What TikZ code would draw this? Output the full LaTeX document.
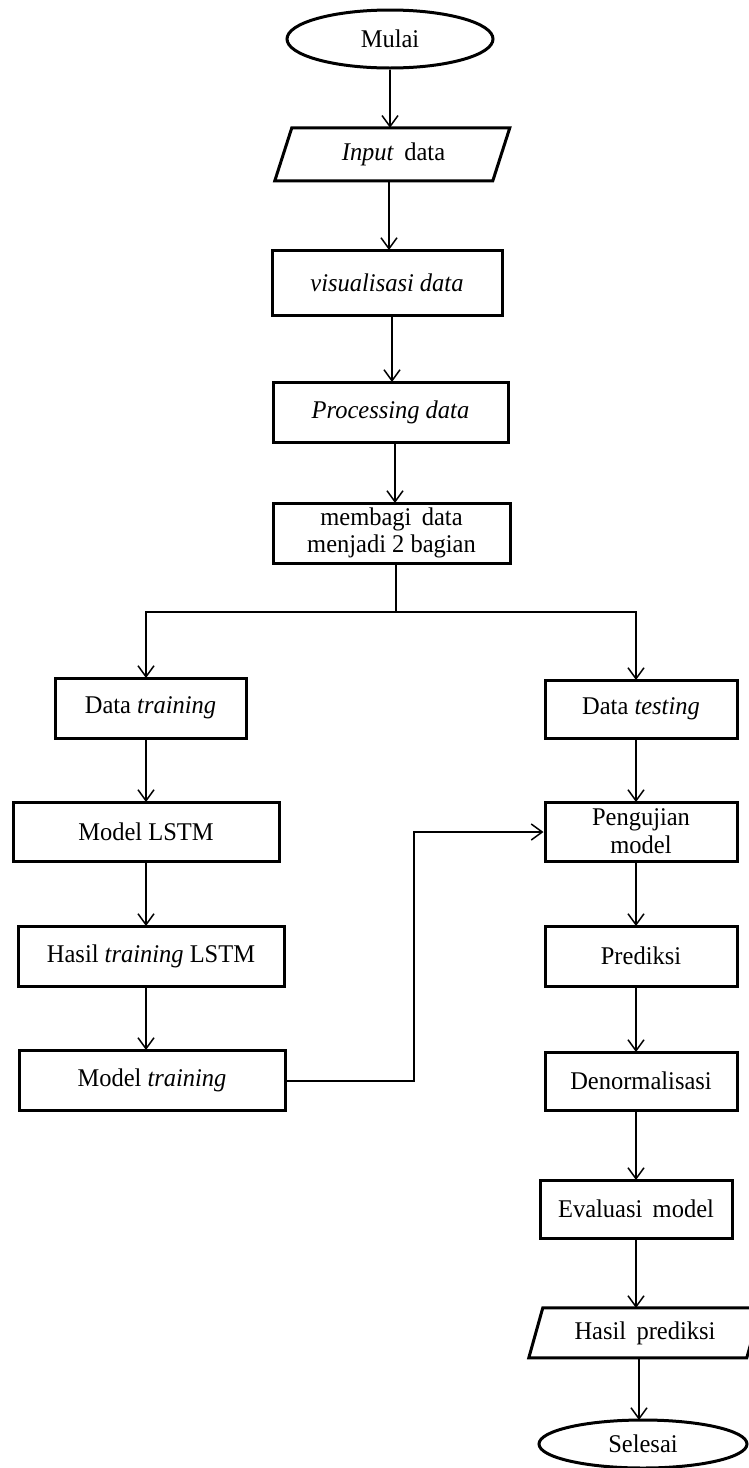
\documentclass[tikz,border=0pt]{standalone}
\usepackage{fontspec}
\setmainfont[FakeStretch=0.96]{Liberation Serif}
\usetikzlibrary{arrows.meta,shapes.geometric}
\begin{document}
\begin{tikzpicture}[x=1pt,y=-1pt,
  every node/.style={font=\fontsize{25.5}{28}\selectfont, align=center, inner sep=0pt},
  box/.style={draw, line width=3pt, rectangle, minimum width=#1},
  oval/.style={draw, line width=3pt, ellipse},
  ghost/.style={rectangle},
  conn/.style={line width=1.5pt, -{Straight Barb[length=11pt,width=16pt]}},
  plain/.style={line width=1.5pt}]
\useasboundingbox (0,0) rectangle (749,1468);
\clip (0,0) rectangle (749,1468);

% top chain
\node[oval, minimum width=206, minimum height=58] (mulai) at (390,39) {Mulai};
\node[ghost, minimum width=220, minimum height=53] (inp) at (393.5,154.5) {\textit{Input}\, data};
\draw[line width=3pt, line join=miter] (inp.north west) ++(8.5,0) -- ++(218,0) -- ++(-17,53) -- ++(-218,0) -- cycle;
\node[box=230, minimum height=65] (vis) at (387,282.5) {\textit{visualisasi data}};
\node[box=235, minimum height=60] (proc) at (390.5,412) {\textit{Processing data}};
\node[box=237, minimum height=60] (split) at (391.5,533) {membagi\, data\\[-1pt]menjadi 2 bagian};

% left column
\node[box=191, minimum height=60] (dtrain) at (150.5,708) {Data \textit{training}};
\node[box=266, minimum height=59] (lstm) at (146,831.5) {Model LSTM};
\node[box=266, minimum height=60] (hasil) at (151,956) {Hasil \textit{training} LSTM};
\node[box=266, minimum height=60] (mtrain) at (152,1080) {Model \textit{training}};

% right column
\node[box=192, minimum height=58] (dtest) at (641,709) {Data \textit{testing}};
\node[box=192, minimum height=59] (uji) at (641,831.5) {Pengujian\\model};
\node[box=192, minimum height=60] (pred) at (641,956) {Prediksi};
\node[box=192, minimum height=58] (denorm) at (641,1081) {Denormalisasi};
\node[box=192, minimum height=58] (eval) at (636,1209) {Evaluasi\, model};
\node[ghost, minimum width=218, minimum height=50] (hp) at (645,1333) {Hasil\, prediksi};
\draw[line width=3pt, line join=miter] (hp.north west) ++(7,0) -- ++(218,0) -- ++(-14,50) -- ++(-218,0) -- cycle;
\node[oval, minimum width=208, minimum height=48] (selesai) at (643,1444) {Selesai};

% connectors
\draw[conn] (mulai.south) -- (mulai.south |- inp.north);
\draw[conn] (389,181) -- (389,250);
\draw[conn] (392,315) -- (392,382);
\draw[conn] (395,442) -- (395,503);
\coordinate (sj) at (396,612);
\draw[plain] (396,563) -- (sj);
\draw[conn] (sj) -- (146,612) -- (146,678);
\draw[conn] (sj) -- (636,612) -- (636,680);

\draw[conn] (146,738) -- (146,802);
\draw[conn] (146,861) -- (146,926);
\draw[conn] (146,986) -- (146,1050);
\coordinate (bend1) at (414,1081);
\coordinate (bend2) at (414,832);
\draw[conn] (mtrain.east |- bend1) -- (bend1) -- (bend2) -- (uji.west |- bend2);

\draw[conn] (636,738) -- (636,802);
\draw[conn] (636,861) -- (636,926);
\draw[conn] (636,986) -- (636,1052);
\draw[conn] (636,1110) -- (636,1180);
\draw[conn] (636,1238) -- (636,1308);
\draw[conn] (639,1358) -- (639,1420);
\end{tikzpicture}
\end{document}
